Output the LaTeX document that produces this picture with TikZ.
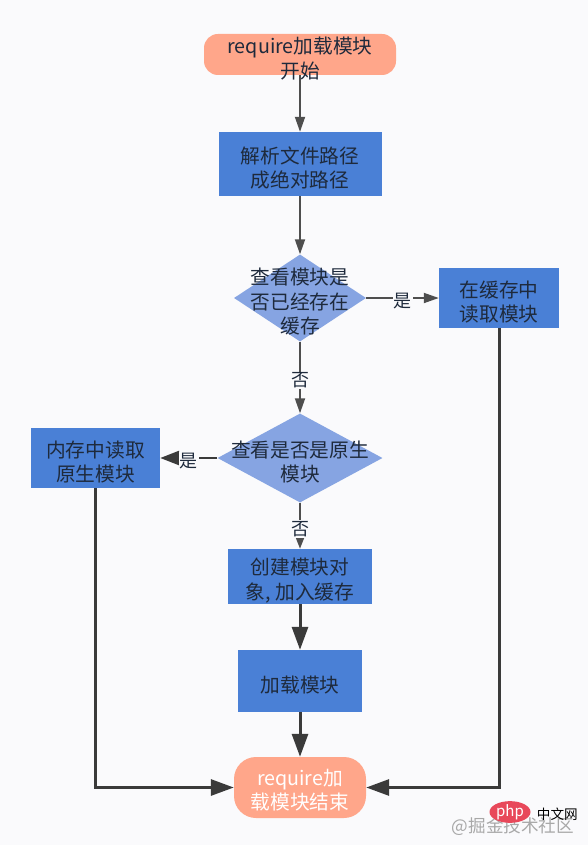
\documentclass[tikz,border=0pt]{standalone}
\usepackage{fontspec}
\setmainfont{Noto Sans CJK SC}
\usepackage{xcolor}
\usetikzlibrary{shapes.geometric, arrows.meta, positioning}
\definecolor{ChartPage}{HTML}{FAFAFC}
\definecolor{ChartBlue}{HTML}{4A80D6}
\definecolor{ChartPale}{HTML}{86A4E2}
\definecolor{ChartPeach}{HTML}{FFA68A}
\definecolor{ChartInk}{HTML}{1E2A3C}
\definecolor{ChartLine}{HTML}{3A3A3A}
\definecolor{ChartRed}{HTML}{E8485A}
\definecolor{ChartMark}{HTML}{A8A8A8}
\tikzset{
    % Node styles
    termbox/.style={
        rectangle,
        draw=none,
        fill=ChartPeach,
        inner sep=0pt
    },
    stepbox/.style={
        rectangle,
        draw=none,
        fill=ChartBlue,
        inner sep=0pt
    },
    askbox/.style={
        diamond,
        draw=none,
        fill=ChartPale,
        inner sep=0pt
    },
    boxtext/.style={
        text=ChartInk,
        align=center,
        yshift=-4pt,
        font=\fontsize{19.7}{24.5}\selectfont
    },
    words/.style={
        label={[boxtext]center:{#1}}
    },
    % Arrow styles
    thinarrow/.style={
        -{Triangle[length=15pt,width=10pt]},
        line width=1.8pt,
        ChartLine!90
    },
    midarrow/.style={
        -{Triangle[length=19pt,width=14pt]},
        line width=2.6pt,
        ChartLine
    },
    fatarrow/.style={
        -{Triangle[length=23pt,width=16pt]},
        line width=3pt,
        ChartLine
    },
    edgeword/.style={
        fill=ChartPage,
        inner sep=1pt,
        yshift=-3pt,
        text=ChartInk,
        font=\fontsize{18}{20}\selectfont
    }
}
\begin{document}
\begin{tikzpicture}[x=1pt, y=-1pt]
    \fill[ChartPage] (0,0) rectangle (588,845);
    \useasboundingbox (0,0) rectangle (588,845);

    % Left to right, top to bottom
    \node[termbox,rounded corners=14pt,minimum width=192pt,minimum height=41pt,words={require加载模块\\开始}] (start) at (300,54.5) {};
    \node[stepbox,minimum width=163pt,minimum height=64pt,words={解析文件路径\\成绝对路径}] (parse) at (300,164) {};
    \node[askbox,minimum width=132pt,minimum height=87pt,aspect=1.5,words={查看模块是\\否已经存在\\缓存}] (cached) at (300,298) {};
    \node[stepbox,minimum width=120pt,minimum height=60pt,words={在缓存中\\读取模块}] (readcache) at (499,298) {};
    \node[askbox,minimum width=165pt,minimum height=89pt,aspect=1.85,words={查看是否是原生\\模块}] (native) at (300,458) {};
    \node[stepbox,minimum width=129pt,minimum height=60pt,words={内存中读取\\原生模块}] (readnative) at (95.5,458) {};
    \node[stepbox,minimum width=144pt,minimum height=55pt,words={创建模块对\\象, 加入缓存}] (create) at (300,576.5) {};
    \node[stepbox,minimum width=124pt,minimum height=62pt,words={加载模块}] (load) at (300,681) {};
    \node[termbox,rounded corners=22pt,minimum width=132pt,minimum height=61pt,
          label={[boxtext,text=white,yshift=1.5pt]center:{require加\\载模块结束}}] (finish) at (300,787.5) {};

    \draw[thinarrow] (start) -- (parse);
    \draw[thinarrow] (parse) -- (cached);
    \draw[thinarrow] (cached) -- node[edgeword] {是} (readcache);
    \draw[thinarrow] (cached) -- node[edgeword] {否} (native);
    \draw[midarrow] (native) -- node[edgeword,pos=0.5] {是} (readnative);
    \draw[thinarrow,-{Triangle[length=11pt,width=8pt]}] (native) -- node[edgeword,pos=0.5] {否} (create);
    \draw[fatarrow] (create) -- (load);
    \draw[fatarrow] (load) -- (finish);
    \draw[fatarrow] (readnative) |- (finish);
    \draw[fatarrow] (readcache) |- (finish);

    % Site mark in the corner
    \node[text=ChartMark,inner sep=0pt,font=\fontsize{17.6}{18}\selectfont] (juejinmark) at (513,827) {@掘金技术社区};
    \node[ellipse,fill=ChartRed,text=white,inner sep=0pt,minimum width=41pt,minimum height=21pt,
          font=\itshape\fontsize{15}{15}\selectfont] (phpmark) at (510,812) {php};
    \node[right=6pt of phpmark,text=black,inner sep=0pt,yshift=-2pt,font=\fontsize{13.6}{14}\selectfont] (sitemark) {中文网};
\end{tikzpicture}
\end{document}
